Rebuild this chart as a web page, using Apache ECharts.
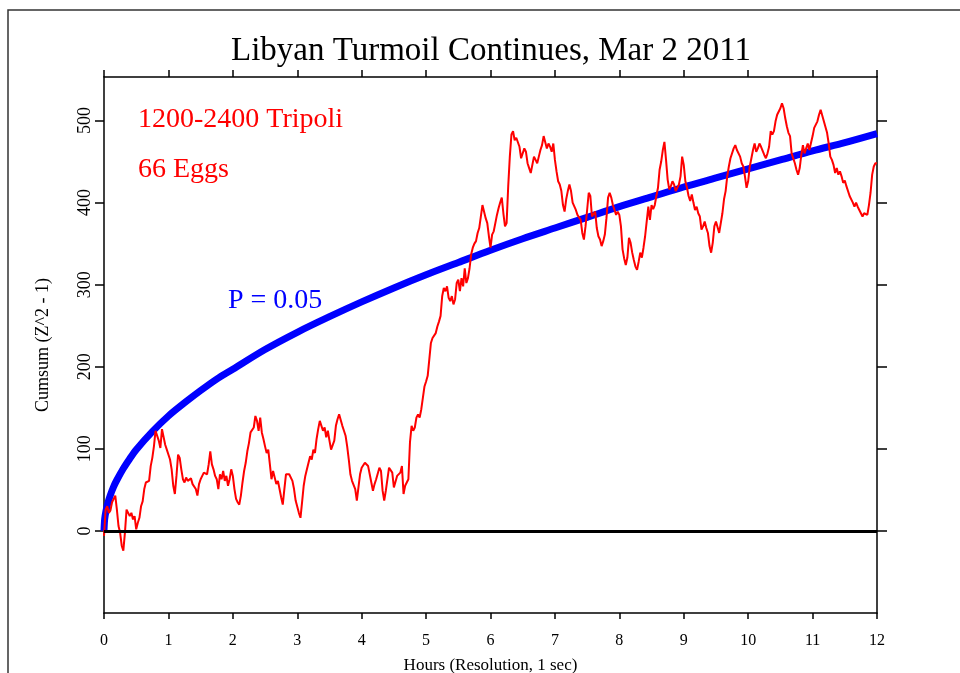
<!DOCTYPE html>
<html>
<head>
<meta charset="utf-8">
<title>Libyan Turmoil Continues, Mar 2 2011</title>
<script src="https://cdn.jsdelivr.net/npm/echarts@6/dist/echarts.min.js"></script>
<style>
  html, body { margin: 0; padding: 0; background: #fff; }
  #chart { width: 960px; height: 673px; }
</style>
</head>
<body>
<div id="chart"></div>
<script>
// red cumsum, every 0.025 hour (0 .. 12), one row per hour
const redStep = 0.025
const redCumsum = [
  -6, 26, 30, 22, 25, 35, 39, 43, 26, 6, -2, -18, -24, -2, 26, 22, 18, 22, 14, 18,
  2, 10, 16, 30, 36, 51, 59, 61, 61, 79, 89, 103, 122, 122, 110, 101, 124, 126, 105, 99,
  101, 87, 75, 55, 45, 67, 93, 89, 75, 63, 59, 65, 61, 63, 64, 57, 57, 51, 43, 57,
  63, 67, 71, 69, 69, 81, 97, 81, 75, 67, 63, 51, 69, 63, 73, 61, 67, 55, 63, 75,
  67, 51, 39, 35, 32, 43, 59, 73, 83, 97, 107, 120, 120, 126, 140, 134, 122, 138, 120, 112,
  103, 95, 99, 81, 63, 73, 71, 57, 61, 51, 41, 32, 51, 69, 67, 69, 71, 61, 51, 37,
  35, 22, 16, 35, 55, 67, 75, 73, 91, 87, 99, 95, 112, 124, 134, 128, 122, 126, 114, 122,
  110, 99, 101, 110, 128, 136, 142, 140, 128, 122, 116, 103, 87, 69, 61, 61, 51, 37, 39, 69,
  77, 75, 83, 85, 79, 69, 59, 49, 57, 63, 65, 77, 73, 49, 37, 49, 63, 77, 79, 71,
  53, 51, 67, 67, 71, 79, 45, 55, 53, 63, 108, 128, 122, 126, 138, 142, 138, 148, 162, 176,
  182, 189, 209, 229, 235, 237, 241, 249, 255, 262, 286, 296, 292, 298, 284, 280, 286, 276, 282, 302,
  306, 292, 308, 298, 320, 302, 308, 320, 337, 345, 350, 353, 363, 369, 383, 397, 395, 381, 375, 359,
  345, 361, 365, 375, 385, 393, 400, 406, 387, 371, 375, 420, 456, 483, 487, 476, 479, 481, 468, 454,
  456, 466, 462, 448, 442, 436, 436, 456, 452, 448, 456, 464, 470, 481, 479, 466, 472, 468, 462, 472,
  452, 438, 426, 422, 414, 397, 389, 404, 414, 422, 414, 400, 400, 391, 385, 387, 379, 363, 355, 371,
  391, 412, 408, 383, 381, 389, 369, 359, 355, 347, 353, 361, 381, 406, 412, 406, 397, 391, 385, 389,
  385, 371, 343, 332, 324, 333, 357, 351, 339, 330, 322, 318, 328, 339, 333, 345, 359, 377, 395, 379,
  397, 392, 397, 408, 418, 440, 450, 464, 474, 452, 428, 416, 420, 426, 422, 414, 414, 422, 432, 456,
  446, 426, 418, 408, 402, 410, 400, 391, 395, 387, 383, 367, 371, 377, 369, 363, 347, 339, 351, 371,
  377, 375, 363, 361, 387, 404, 414, 432, 444, 454, 454, 466, 470, 464, 466, 456, 448, 444, 432, 418,
  426, 444, 454, 464, 472, 462, 466, 472, 468, 470, 458, 454, 460, 468, 487, 483, 487, 499, 507, 509,
  515, 521, 515, 503, 493, 485, 481, 460, 460, 448, 440, 434, 442, 458, 470, 460, 466, 472, 464, 466,
  481, 491, 495, 499, 507, 513, 511, 499, 492, 485, 472, 456, 452, 446, 436, 442, 434, 438, 432, 424,
  427, 420, 418, 408, 406, 400, 395, 400, 395, 391, 391, 383, 387, 389, 385, 397, 412, 434, 444, 448,
  448
]

// blue P = 0.05 envelope
const envHours = [0, 0.01, 0.03, 0.06, 0.1, 0.15, 0.2, 0.3, 0.4, 0.5, 0.75, 1, 1.25, 1.5, 1.75, 2,
  2.5, 3, 3.5, 4, 4.5, 5, 5.5, 6, 6.5, 7, 7.5, 8, 8.5, 9, 9.5, 10, 10.5, 11, 11.5, 12]
const envValues = [0, 14, 24, 34, 44, 54, 62, 76, 88, 99, 121, 140, 156, 171, 185, 197,
  221, 242, 261, 279, 296, 312, 327, 342, 356, 369, 382, 395, 407, 419, 430, 441, 452, 463, 473, 484]

const xTicks = [0, 1, 2, 3, 4, 5, 6, 7, 8, 9, 10, 11, 12]
const yTicks = [0, 100, 200, 300, 400, 500]

const serif = '"Liberation Serif", "Times New Roman", serif'

let chart = echarts.init(document.getElementById('chart'))

let redData = redCumsum.map((v, i) => [+(i * redStep).toFixed(3), v])
let envData = envHours.map((h, i) => [h, envValues[i]])

let axisLine = { show: true, onZero: false, lineStyle: { color: '#000', width: 1.5 } }

let option = {
  animation: false,
  backgroundColor: '#fff',
  title: {
    text: 'Libyan Turmoil Continues, Mar 2 2011',
    left: 486,
    top: 30,
    textAlign: 'center',
    textStyle: { fontFamily: serif, fontSize: 33, fontWeight: 'normal', color: '#000' }
  },
  graphic: [
    { // outer frame of the picture
      type: 'rect', z: -1, silent: true,
      shape: { x: 8, y: 10, width: 1000, height: 1000 },
      style: { fill: 'none', stroke: '#333', lineWidth: 1.5 }
    },
    {
      type: 'text', silent: true,
      style: { text: '1200-2400 Tripoli', x: 138, y: 120, verticalAlign: 'middle',
        font: '28px ' + serif, fill: '#ff0000' }
    },
    {
      type: 'text', silent: true,
      style: { text: '66 Eggs', x: 138, y: 170, verticalAlign: 'middle',
        font: '28px ' + serif, fill: '#ff0000' }
    },
    {
      type: 'text', silent: true,
      style: { text: 'P = 0.05', x: 228, y: 301, verticalAlign: 'middle',
        font: '28px ' + serif, fill: '#0000ff' }
    }
  ],
  // v6 would otherwise shrink the grid to keep the axis name inside
  grid: { left: 104, right: 83, top: 77, height: 536, outerBoundsMode: 'none' },
  xAxis: [{
    type: 'value', min: 0, max: 12, interval: 1, position: 'bottom',
    axisLine: axisLine,
    axisTick: { show: true, length: 6, customValues: xTicks, lineStyle: { color: '#000', width: 1.5 } },
    axisLabel: { color: '#000', fontFamily: serif, fontSize: 16, margin: 20, customValues: xTicks },
    splitLine: { show: false },
    name: 'Hours (Resolution, 1 sec)',
    nameLocation: 'middle',
    nameGap: 44,
    nameTextStyle: { color: '#000', fontFamily: serif, fontSize: 17 }
  }, {
    type: 'value', min: 0, max: 12, interval: 1, position: 'top',
    axisLine: axisLine,
    axisTick: { show: true, length: 7, customValues: xTicks, lineStyle: { color: '#000', width: 1.5 } },
    axisLabel: { show: false },
    splitLine: { show: false }
  }],
  yAxis: [{
    type: 'value', min: -100, max: 553, interval: 100, position: 'left',
    axisLine: axisLine,
    axisTick: { show: true, length: 9, customValues: yTicks, lineStyle: { color: '#000', width: 1.5 } },
    axisLabel: {
      color: '#000', fontFamily: serif, fontSize: 18, rotate: 90, margin: 10,
      customValues: yTicks,
      formatter: v => (v >= 0 && v % 100 === 0) ? String(v) : ''
    },
    splitLine: { show: false },
    name: 'Cumsum (Z^2 - 1)',
    nameLocation: 'middle',
    nameRotate: 90,
    nameGap: 52,
    nameTextStyle: { color: '#000', fontFamily: serif, fontSize: 18 }
  }, {
    type: 'value', min: -100, max: 553, interval: 100, position: 'right',
    axisLine: axisLine,
    axisTick: { show: true, length: 10, customValues: yTicks, lineStyle: { color: '#000', width: 1.5 } },
    axisLabel: { show: false },
    splitLine: { show: false }
  }],
  series: [{
    name: 'P = 0.05',
    type: 'line',
    data: envData,
    showSymbol: false,
    smooth: 0.3,
    lineStyle: { color: '#0000ff', width: 7 },
    z: 2
  }, {
    name: '1200-2400 Tripoli',
    type: 'line',
    data: redData,
    showSymbol: false,
    lineStyle: { color: '#ff0000', width: 2 },
    z: 3,
    markLine: {
      silent: true,
      symbol: 'none',
      label: { show: false },
      lineStyle: { color: '#000', width: 3, type: 'solid' },
      data: [{ yAxis: 0 }]
    }
  }]
}
chart.setOption(option)
</script>
</body>
</html>
